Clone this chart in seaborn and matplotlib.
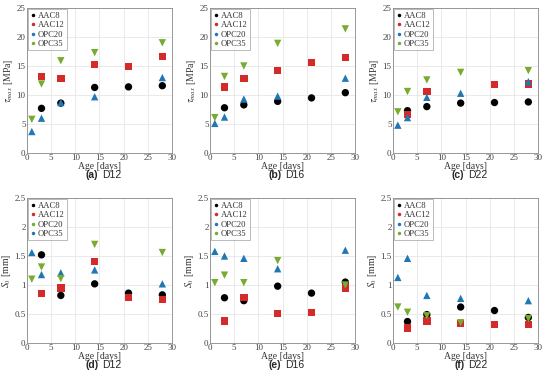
import matplotlib
matplotlib.use("Agg")
import matplotlib.pyplot as plt
from matplotlib.lines import Line2D
import seaborn as sns
import pandas as pd

# Ages (days) for each series
age_aac8 = [3, 7, 14, 21, 28]
age_aac12 = [3, 7, 14, 21, 28]
age_opc20 = [1, 3, 7, 14, 28]
age_opc35 = [1, 3, 7, 14, 28]
age_aac12_c = [3, 7, 21, 28]

# tau_max [MPa]
tau_d12_aac8 = [7.7, 8.6, 11.3, 11.4, 11.6]
tau_d12_aac12 = [13.2, 12.8, 15.3, 14.9, 16.6]
tau_d12_opc20 = [3.7, 6.0, 8.7, 9.7, 13.0]
tau_d12_opc35 = [5.8, 11.9, 15.9, 17.3, 19.0]

tau_d16_aac8 = [7.8, 8.3, 8.9, 9.5, 10.4]
tau_d16_aac12 = [11.4, 12.9, 14.2, 15.6, 16.5]
tau_d16_opc20 = [5.1, 6.2, 9.3, 9.8, 12.9]
tau_d16_opc35 = [6.1, 13.2, 15.0, 18.9, 21.4]

tau_d22_aac8 = [7.3, 8.0, 8.6, 8.7, 8.8]
tau_d22_aac12 = [6.6, 10.6, 11.8, 11.9]
tau_d22_opc20 = [4.8, 6.1, 9.6, 10.3, 12.3]
tau_d22_opc35 = [7.1, 10.6, 12.6, 13.9, 14.2]

# S0 [mm]
s0_d12_aac8 = [1.52, 0.82, 1.02, 0.86, 0.83]
s0_d12_aac12 = [0.85, 0.95, 1.41, 0.79, 0.75]
s0_d12_opc20 = [1.56, 1.18, 1.21, 1.26, 1.02]
s0_d12_opc35 = [1.10, 1.31, 1.11, 1.70, 1.56]

s0_d16_aac8 = [0.78, 0.73, 0.98, 0.86, 1.05]
s0_d16_aac12 = [0.38, 0.79, 0.51, 0.53, 0.95]
s0_d16_opc20 = [1.58, 1.50, 1.46, 1.28, 1.60]
s0_d16_opc35 = [1.04, 1.17, 1.04, 1.42, 1.00]

s0_d22_aac8 = [0.37, 0.49, 0.62, 0.56, 0.44]
s0_d22_aac12 = [0.26, 0.38, 0.34, 0.32, 0.32]
s0_d22_opc20 = [1.13, 1.46, 0.82, 0.77, 0.73]
s0_d22_opc35 = [0.62, 0.53, 0.47, 0.35, 0.42]

mixes = ["AAC8", "AAC12", "OPC20", "OPC35"]
colors = {"AAC8": "#000000", "AAC12": "#d42a2a", "OPC20": "#1f77b4", "OPC35": "#77ac30"}
markers = {"AAC8": "o", "AAC12": "s", "OPC20": "^", "OPC35": "v"}

panels = [
    ("(a)", "D12", "tau", [age_aac8, age_aac12, age_opc20, age_opc35],
     [tau_d12_aac8, tau_d12_aac12, tau_d12_opc20, tau_d12_opc35]),
    ("(b)", "D16", "tau", [age_aac8, age_aac12, age_opc20, age_opc35],
     [tau_d16_aac8, tau_d16_aac12, tau_d16_opc20, tau_d16_opc35]),
    ("(c)", "D22", "tau", [age_aac8, age_aac12_c, age_opc20, age_opc35],
     [tau_d22_aac8, tau_d22_aac12, tau_d22_opc20, tau_d22_opc35]),
    ("(d)", "D12", "s0", [age_aac8, age_aac12, age_opc20, age_opc35],
     [s0_d12_aac8, s0_d12_aac12, s0_d12_opc20, s0_d12_opc35]),
    ("(e)", "D16", "s0", [age_aac8, age_aac12, age_opc20, age_opc35],
     [s0_d16_aac8, s0_d16_aac12, s0_d16_opc20, s0_d16_opc35]),
    ("(f)", "D22", "s0", [age_aac8, age_aac12, age_opc20, age_opc35],
     [s0_d22_aac8, s0_d22_aac12, s0_d22_opc20, s0_d22_opc35]),
]

sns.set_theme(style="whitegrid")
plt.rcParams["font.family"] = ["Liberation Serif", "DejaVu Serif"]
plt.rcParams["mathtext.fontset"] = "stix"

fig = plt.figure(figsize=(5.5, 3.85), dpi=100)

lefts = [27 / 550, 210 / 550, 393 / 550]
bottoms = [(385 - 153) / 385, (385 - 343) / 385]
w, h = 145 / 550, 145 / 385

for i, (tag, name, kind, ages, vals) in enumerate(panels):
    row, col = divmod(i, 3)
    ax = fig.add_axes([lefts[col], bottoms[row], w, h])

    rows = []
    for mix, a, v in zip(mixes, ages, vals):
        for x, y in zip(a, v):
            rows.append({"Age": x, "Value": y, "Mix": mix})
    df = pd.DataFrame(rows)

    sns.scatterplot(data=df, x="Age", y="Value", hue="Mix", style="Mix",
                    hue_order=mixes, style_order=mixes,
                    palette=colors, markers=markers, s=28,
                    edgecolor="none", linewidth=0, legend=False, ax=ax, zorder=3)

    ax.set_xlim(0, 30)
    ax.set_xticks([0, 5, 10, 15, 20, 25, 30])
    if kind == "tau":
        ax.set_ylim(0, 25)
        ax.set_yticks([0, 5, 10, 15, 20, 25])
        ax.set_ylabel(r"$\tau_{max}$ [MPa]", fontsize=7, labelpad=1, color="#333333")
    else:
        ax.set_ylim(0, 2.5)
        ax.set_yticks([0, 0.5, 1, 1.5, 2, 2.5])
        ax.set_yticklabels(["0", "0.5", "1", "1.5", "2", "2.5"])
        ax.set_ylabel(r"$S_0$ [mm]", fontsize=7, labelpad=1, color="#333333")
    ax.set_xlabel("Age [days]", fontsize=7, labelpad=0, color="#333333")

    ax.tick_params(axis="both", labelsize=6.5, pad=1, length=2, colors="#444444",
                   direction="in")
    ax.grid(True, color="#e6e6e6", linewidth=0.6)
    for sp in ax.spines.values():
        sp.set_edgecolor("#888888")
        sp.set_linewidth(0.6)

    # legend (panel d has swapped colour entries as in the source)
    leg_colors = [colors[m] for m in mixes]
    if tag == "(d)":
        leg_colors = [colors["AAC8"], colors["AAC12"], colors["OPC35"], colors["OPC20"]]
    handles = [Line2D([0], [0], marker=".", linestyle="none", color=c, markersize=3)
               for c in leg_colors]
    leg = ax.legend(handles, mixes, loc="upper left", fontsize=6.2, frameon=True,
                    handlelength=0.4, handletextpad=0.4, borderpad=0.3,
                    labelspacing=0.15, borderaxespad=0.15, fancybox=False)
    leg.get_frame().set_edgecolor("#888888")
    leg.get_frame().set_linewidth(0.5)
    for t in leg.get_texts():
        t.set_color("#333333")

    cap_y = bottoms[row] - 22 / 385
    cx = lefts[col] + w / 2
    fig.text(cx - 0.002, cap_y, tag, ha="right", va="center", fontsize=7.5,
             fontweight="bold", family=["Liberation Sans", "DejaVu Sans"])
    fig.text(cx + 0.004, cap_y, name, ha="left", va="center", fontsize=7.5,
             family=["Liberation Sans", "DejaVu Sans"])

fig.savefig("out.png", dpi=100)
